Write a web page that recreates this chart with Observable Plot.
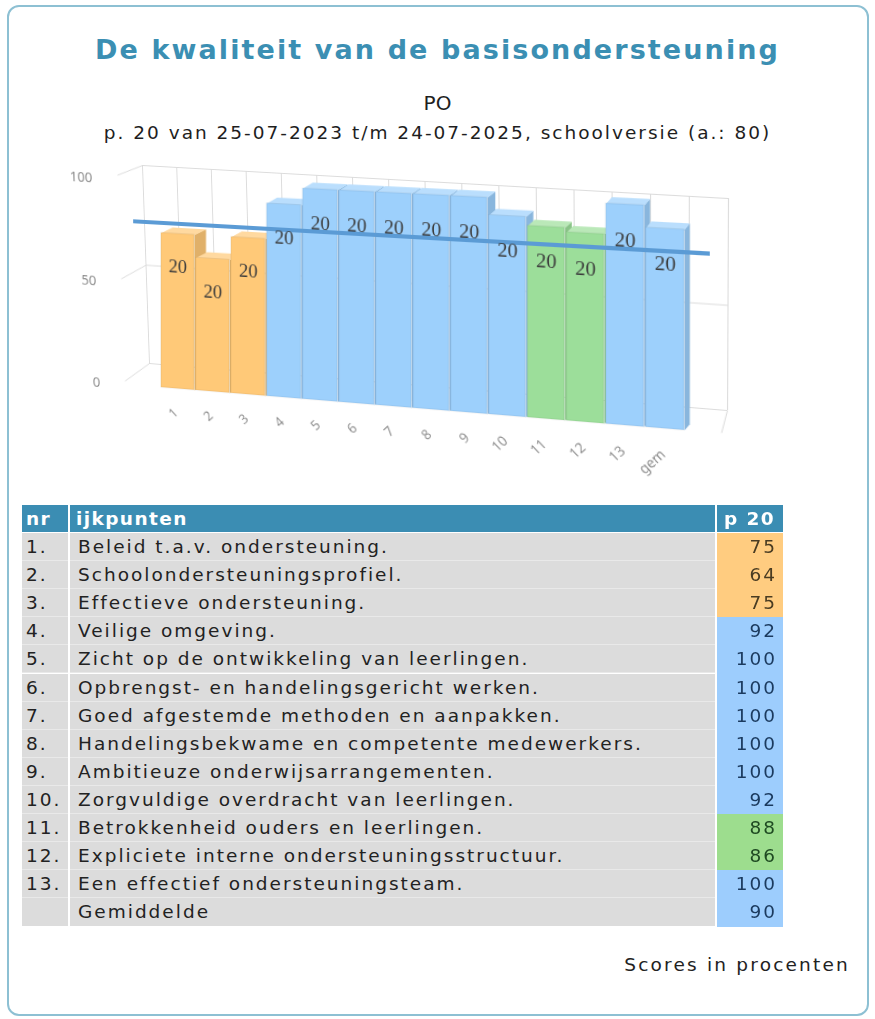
<!DOCTYPE html>
<html lang="nl">
<head>
<meta charset="utf-8">
<script src="https://cdn.jsdelivr.net/npm/d3@7"></script>
<script src="https://cdn.jsdelivr.net/npm/@observablehq/plot@0.6"></script>
<style>
html, body { margin:0; padding:0; background:#fff; }
body { position:relative; width:875px; height:1019px; overflow:hidden; font-family:"DejaVu Sans", Verdana, sans-serif; color:#1e1e1e; }
#card { position:absolute; left:7px; top:5px; width:858px; height:1007px; border:2px solid #8dc0d3; border-radius:12px; }
.ctext { position:absolute; left:0; width:875px; text-align:center; white-space:nowrap; }
#title { top:33px; font-size:27px; line-height:34px; font-weight:bold; color:#3b8fb3; letter-spacing:2.1px; }
#po { top:90px; font-size:20px; line-height:26px; }
#sub { top:121px; font-size:18.5px; line-height:24px; letter-spacing:2px; }
#chart { position:absolute; left:0; top:0; width:875px; height:500px; }
#chart svg { position:absolute; left:0; top:0; transform-origin:0 0; }
.cell { position:absolute; box-sizing:border-box; white-space:nowrap; font-size:18.5px; letter-spacing:2px; overflow:hidden; }
#foot { position:absolute; right:25px; top:953px; font-size:18.5px; line-height:24px; letter-spacing:2.2px; color:#222; }
</style>
</head>
<body>
<div id="card"></div>
<div id="title" class="ctext">De kwaliteit van de basisondersteuning</div>
<div id="po" class="ctext">PO</div>
<div id="sub" class="ctext">p. 20 van 25-07-2023 t/m 24-07-2025, schoolversie (a.: 80)</div>
<div id="chart"></div>
<div id="table"></div>
<div id="foot">Scores in procenten</div>
<script>
// ---------------- data ----------------
const categories = ["1","2","3","4","5","6","7","8","9","10","11","12","13","gem"];
const scores = [75, 64, 75, 92, 100, 100, 100, 100, 100, 92, 88, 86, 100, 90];
const respondents = [20, 20, 20, 20, 20, 20, 20, 20, 20, 20, 20, 20, 20, 20];
const itemNumbers = ["1.","2.","3.","4.","5.","6.","7.","8.","9.","10.","11.","12.","13.",""];
const itemLabels = [
  "Beleid t.a.v. ondersteuning.",
  "Schoolondersteuningsprofiel.",
  "Effectieve ondersteuning.",
  "Veilige omgeving.",
  "Zicht op de ontwikkeling van leerlingen.",
  "Opbrengst- en handelingsgericht werken.",
  "Goed afgestemde methoden en aanpakken.",
  "Handelingsbekwame en competente medewerkers.",
  "Ambitieuze onderwijsarrangementen.",
  "Zorgvuldige overdracht van leerlingen.",
  "Betrokkenheid ouders en leerlingen.",
  "Expliciete interne ondersteuningsstructuur.",
  "Een effectief ondersteuningsteam.",
  "Gemiddelde"
];
const columnHeaders = ["nr", "ijkpunten", "p 20"];
const yTicks = [0, 50, 100];
const normScore = 80;
const bandLimits = [80, 90];

// ---------------- styles ----------------
const bandColors = ["#ffc978", "#9cde9a", "#9dd0fc"];
const cellColors = ["#ffcc80", "#9ddd8e", "#9dcdfd"];
const cellTextColors = ["#4a3c22", "#1f4a22", "#1b3a5e"];
const band = d3.scaleThreshold().domain(bandLimits).range([0, 1, 2]);

const bars = categories.map((cat, i) => ({cat, i, score: scores[i], n: respondents[i]}));

// flat drawing frame
const W = 875, H = 500, mL = 124, mR = 175, mT = 180, mB = 113;
const slots = categories.length + 2;
const gap = 0.025, depthY = 3;
const depthX = i => 0.33 - 0.2 * i / (categories.length - 1);
const poly = (d, pts) => pts.map(([x, y]) => ({id: d.i, score: d.score, x, y}));
const sides = bars.flatMap(d => {
  const x2 = d.i + 2 - gap, dx = depthX(d.i);
  return poly(d, [[x2, 0], [x2, d.score], [x2 + dx, d.score + depthY], [x2 + dx, depthY]]);
});
const tops = bars.flatMap(d => {
  const x1 = d.i + 1 + gap, x2 = d.i + 2 - gap, dx = depthX(d.i);
  return poly(d, [[x1, d.score], [x2, d.score], [x2 + dx, d.score + depthY], [x1 + dx, d.score + depthY]]);
});

const common = {
  width: W, height: H, marginLeft: mL, marginRight: mR, marginTop: mT, marginBottom: mB,
  x: {type: "linear", domain: [0, slots], axis: null},
  y: {type: "linear", domain: [0, 100], axis: null},
  color: {type: "threshold", domain: bandLimits, range: bandColors},
  style: {background: "transparent", overflow: "visible"}
};
const polyOpts = {x: "x", y: "y", z: "id", stroke: "none", curve: "linear-closed"};
const wallDepth = v => 10.1 - 0.045 * v;
const gridColor = "#dcdcdc";

const back = Plot.plot({
  ...common,
  marks: [
    Plot.ruleX(d3.range(slots + 1), {stroke: gridColor}),
    Plot.ruleY(yTicks, {stroke: gridColor}),
    Plot.link(yTicks, {x1: () => 0, y1: d => d, x2: () => -0.75, y2: d => d - wallDepth(d), stroke: gridColor}),
    Plot.link([0], {x1: () => slots, y1: d => d, x2: () => slots - 0.15, y2: d => d - 11, stroke: gridColor}),
    Plot.text(yTicks, {x: () => -0.75, y: d => d - wallDepth(d), text: d => String(d), textAnchor: "end", dx: -27, dy: 4, fontSize: 14, fill: "#8c8c8c"})
  ]
});

const front = Plot.plot({
  ...common,
  marks: [
    Plot.line(sides, {...polyOpts, fill: "score"}),
    Plot.line(sides, {...polyOpts, fill: "#000", fillOpacity: 0.12}),
    Plot.line(tops, {...polyOpts, fill: "score"}),
    Plot.line(tops, {...polyOpts, fill: "#fff", fillOpacity: 0.3}),
    Plot.rect(bars, {x1: d => d.i + 1 + gap, x2: d => d.i + 2 - gap, y1: () => 0, y2: "score", fill: "score", stroke: "#000", strokeOpacity: 0.07}),
    Plot.ruleY([normScore], {stroke: "#5b9bd5", strokeWidth: 4, insetLeft: 8, insetRight: 14}),
    Plot.text(bars, {x: d => d.i + 1.5, y: "score", text: d => String(d.n), dy: 33, fontFamily: "Liberation Serif, serif", fontSize: 19, fill: "#3b3b3b"}),
    Plot.text(bars, {x: d => d.i + 1.5, y: () => 0, text: "cat", rotate: -45, textAnchor: "end", dx: -2, dy: 22, fontSize: 13, fill: "#8c8c8c"})
  ]
});

// ---------------- perspective view ----------------
function homography(src, dst) {
  const A = [], b = [];
  for (let k = 0; k < 4; k++) {
    const [x, y] = src[k], [u, v] = dst[k];
    A.push([x, y, 1, 0, 0, 0, -u * x, -u * y]); b.push(u);
    A.push([0, 0, 0, x, y, 1, -v * x, -v * y]); b.push(v);
  }
  const n = 8;
  for (let c = 0; c < n; c++) {
    let p = c;
    for (let r = c + 1; r < n; r++) if (Math.abs(A[r][c]) > Math.abs(A[p][c])) p = r;
    [A[c], A[p]] = [A[p], A[c]]; [b[c], b[p]] = [b[p], b[c]];
    for (let r = 0; r < n; r++) if (r !== c) {
      const f = A[r][c] / A[c][c];
      for (let k = c; k < n; k++) A[r][k] -= f * A[c][k];
      b[r] -= f * b[c];
    }
  }
  return b.map((v, i) => v / A[i][i]);
}
function applyView(svg, src, dst) {
  const h = homography(src, dst);
  svg.style.transform = `matrix3d(${h[0]},${h[3]},0,${h[6]},${h[1]},${h[4]},0,${h[7]},0,0,1,0,${h[2]},${h[5]},0,1)`;
}
const sx = d3.scaleLinear([0, slots], [mL, W - mR]);
const sy = d3.scaleLinear([0, 100], [H - mB, mT]);
const frontView = [[160, 181], [160, 387], [685, 207], [685, 430]];
const backView = [[142, 165], [149, 363], [728, 198], [727, 410]];
applyView(back, [[sx(0), sy(100)], [sx(0), sy(0)], [sx(slots), sy(100)], [sx(slots), sy(0)]], backView);
applyView(front, [[sx(1), sy(100)], [sx(1), sy(0)], [sx(slots - 1), sy(100)], [sx(slots - 1), sy(0)]], frontView);
document.getElementById("chart").append(back, front);

// ---------------- table ----------------
const table = d3.select("#table");
const colX = [22, 70, 717], colW = [46, 645, 66];
const headerTop = 505, headerH = 27, rowTop = 533, rowH = 28.1;
function cell(x, y, w, h, text, style) {
  const c = table.append("div").attr("class", "cell").text(text)
    .style("left", x + "px").style("top", y + "px").style("width", w + "px").style("height", h + "px")
    .style("line-height", h + "px");
  Object.entries(style).forEach(([k, v]) => c.style(k, v));
  return c;
}
const headStyle = {background: "#3b8db3", color: "#fff", "font-weight": "bold", "letter-spacing": "1.4px"};
cell(colX[0], headerTop, colW[0], headerH, columnHeaders[0], {...headStyle, "padding-left": "4px"});
cell(colX[1], headerTop, colW[1], headerH, columnHeaders[1], {...headStyle, "padding-left": "6px"});
cell(colX[2], headerTop, colW[2], headerH, columnHeaders[2], {...headStyle, "text-align": "right", "padding-right": "8px"});
itemLabels.forEach((label, i) => {
  const y = rowTop + i * rowH, b = band(scores[i]);
  const last = i === itemLabels.length - 1;
  const gray = {background: "#dcdcdc", color: "#222", "border-bottom": last ? "none" : "1px solid #e9e9e9"};
  cell(colX[0], y, colW[0], rowH, itemNumbers[i], {...gray, "padding-left": "4px"});
  cell(colX[1], y, colW[1], rowH, label, {...gray, "padding-left": "8px"});
  cell(colX[2], y, colW[2], rowH + 0.5, String(scores[i]), {background: cellColors[b], color: cellTextColors[b], "text-align": "right", "padding-right": "6px"});
});
</script>
</body>
</html>
